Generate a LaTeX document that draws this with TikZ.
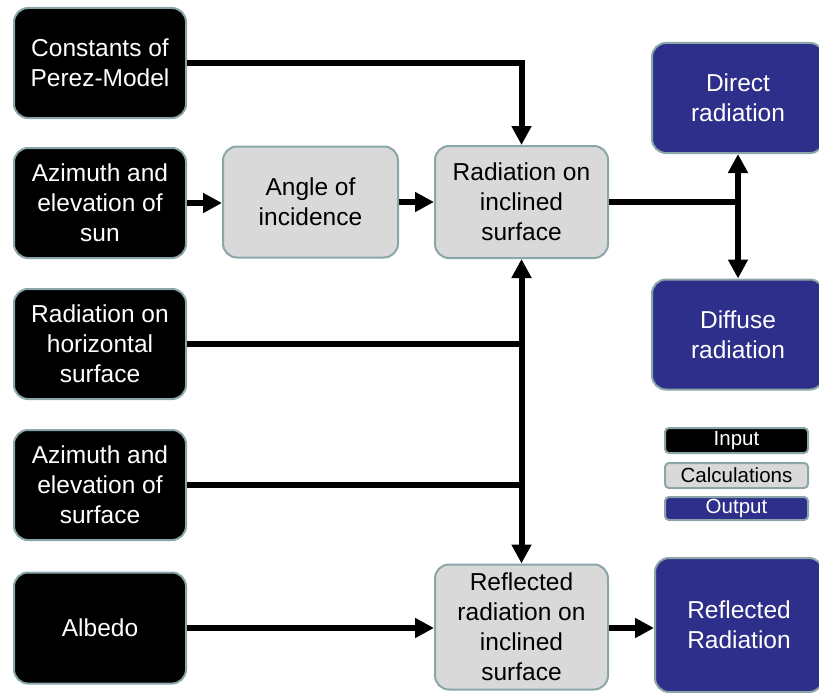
\documentclass[tikz,border=0pt]{standalone}
\usepackage{fontspec}
\setmainfont{Liberation Sans}
\usetikzlibrary{arrows.meta}
\definecolor{bordc}{HTML}{8AA6A8}
\definecolor{calcc}{HTML}{D9D9D9}
\definecolor{outc}{HTML}{2E2F8A}
\tikzset{
  box/.style={draw=bordc, line width=2pt, rounded corners=14pt, align=center, inner sep=0pt,
    font=\fontsize{24.5pt}{30pt}\selectfont},
  inbox/.style={box, fill=black, text=white},
  calcbox/.style={box, fill=calcc, text=black},
  outbox/.style={box, fill=outc, text=white},
  legbox/.style={draw=bordc, line width=2pt, rounded corners=4pt, inner sep=0pt,
    minimum width=143pt, font=\fontsize{20.5pt}{24pt}\selectfont},
  conn/.style={line width=6pt, -{Triangle[width=19pt,length=19pt]}},
  plain/.style={line width=6pt},
  both/.style={line width=6pt, {Triangle[width=19pt,length=19pt]}-{Triangle[width=19pt,length=19pt]}}
}
\begin{document}
\begin{tikzpicture}[x=1pt,y=-1pt]
\useasboundingbox (0,0) rectangle (819,693);
% inputs
\node[inbox, minimum width=172pt, minimum height=110pt] (cons) at (100,63) {Constants of\\Perez-Model};
\node[inbox, minimum width=172pt, minimum height=110pt] (azs) at (100,203) {Azimuth and\\elevation of\\sun};
\node[inbox, minimum width=172pt, minimum height=110pt] (rhor) at (100,344) {Radiation on\\horizontal\\surface};
\node[inbox, minimum width=172pt, minimum height=110pt] (azf) at (100,485) {Azimuth and\\elevation of\\surface};
\node[inbox, minimum width=172pt, minimum height=111pt] (alb) at (100,628) {Albedo};
% calculations
\node[calcbox, minimum width=175pt, minimum height=111pt] (ang) at (310.5,202) {Angle of\\incidence};
\node[calcbox, minimum width=173pt, minimum height=112pt] (rinc) at (521.5,202) {Radiation on\\inclined\\surface};
\node[calcbox, minimum width=173pt, minimum height=125pt] (rrefl) at (521.5,627) {Reflected\\radiation on\\inclined\\surface};
% outputs
\node[outbox, minimum width=172pt, minimum height=110pt] (dir) at (738,98) {Direct\\radiation};
\node[outbox, minimum width=172pt, minimum height=110pt] (dif) at (738,334.5) {Diffuse\\radiation};
\node[outbox, minimum width=168pt, minimum height=134pt] (rout) at (739,625) {Reflected\\Radiation};
% legend
\node[legbox, fill=black, text=white, minimum height=25pt] (lin) at (736.5,440.5) {Input};
\node[legbox, fill=calcc, text=black, minimum height=25pt] (lca) at (736.5,475.5) {Calculations};
\node[legbox, fill=outc, text=white, minimum height=23pt] (lou) at (736.5,508.5) {Output};
% connectors
\draw[conn] (cons.east) -| (rinc.north);
\draw[conn] (azs.east) -- (azs.east -| ang.west);
\draw[conn] (ang.east) -- (ang.east -| rinc.west);
\coordinate (jr) at (rinc.east -| dir.south);
\draw[plain] (rinc.east) -- ([xshift=3pt]jr);
\draw[both] (dir.south) -- (dif.north);
\draw[both] (rinc.south) -- (rrefl.north);
\draw[plain] (rhor.east) -- ([xshift=3pt]rhor.east -| rinc.south);
\draw[plain] (azf.east) -- ([xshift=3pt]azf.east -| rinc.south);
\draw[conn] (alb.east) -- (alb.east -| rrefl.west);
\draw[conn] (rrefl.east |- alb.east) -- (alb.east -| rout.west);
\end{tikzpicture}
\end{document}
